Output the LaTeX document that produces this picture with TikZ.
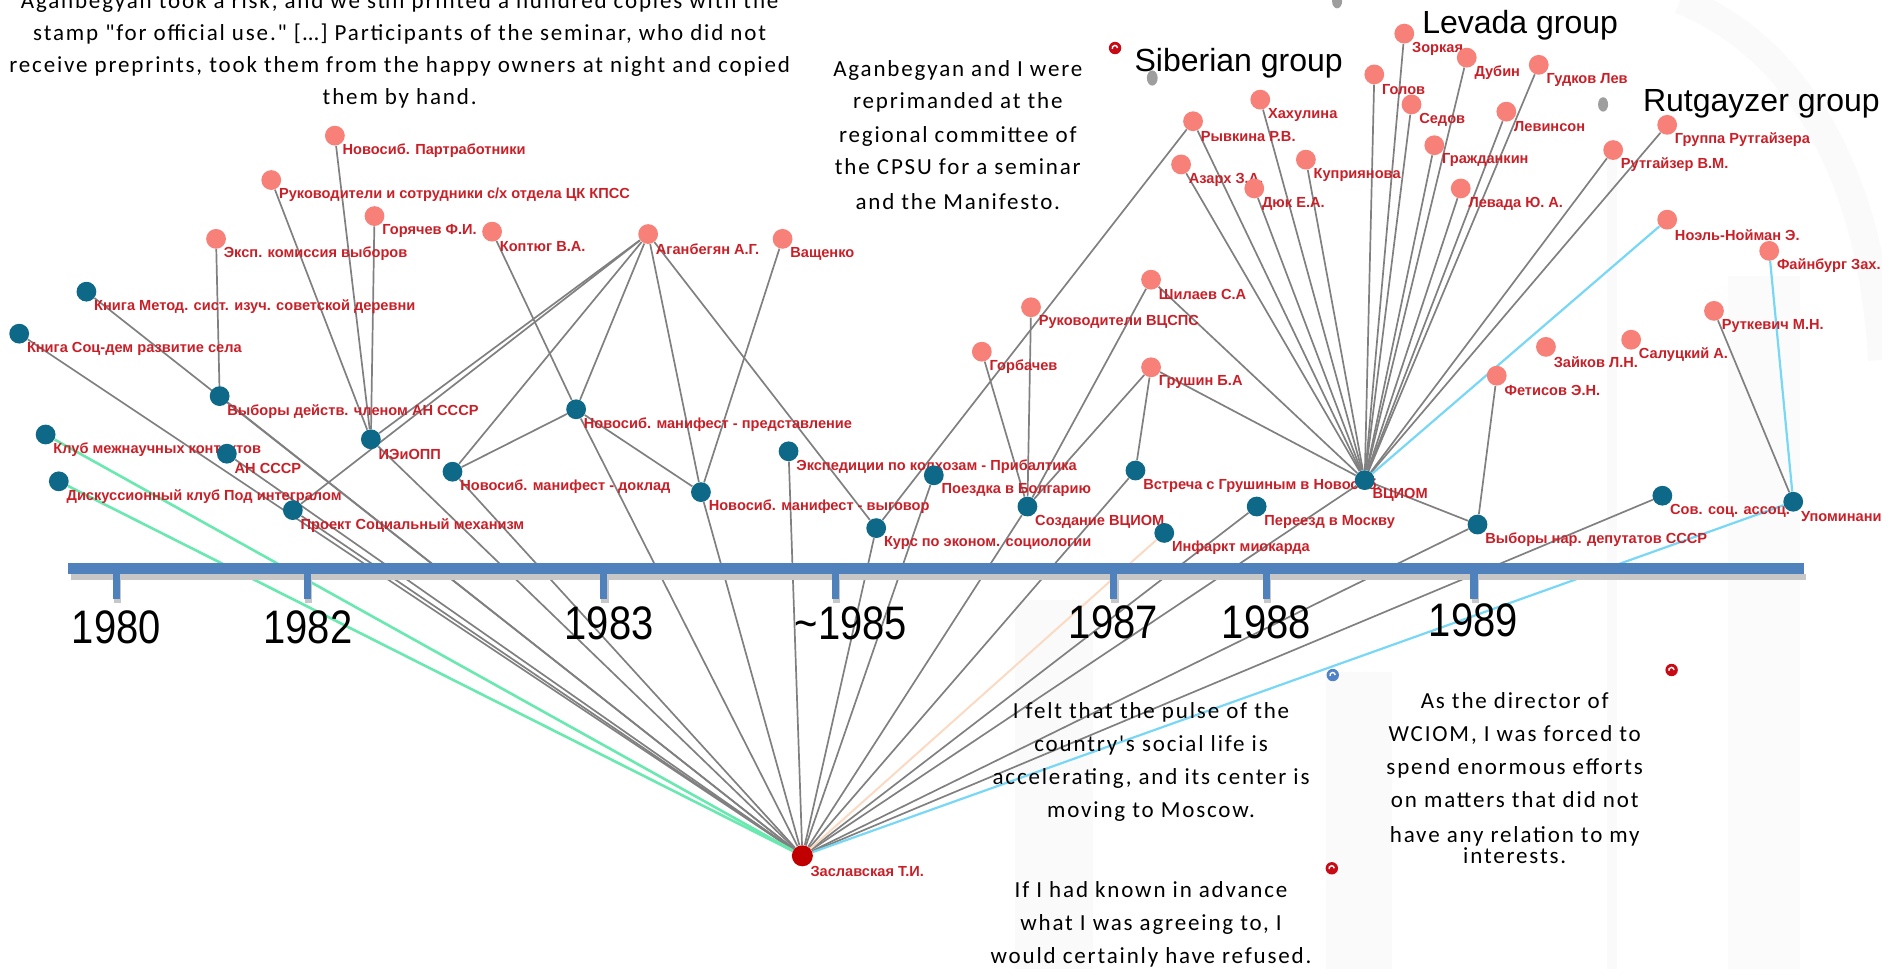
\documentclass[tikz,border=0pt]{standalone}
\usepackage{fontspec}
\setmainfont{Carlito}
\newfontfamily\quotefont[LetterSpace=8]{Carlito}
\newfontfamily\labfont{Liberation Sans}
\newfontfamily\grpfont{Liberation Sans}
\newfontfamily\yearfont[FakeStretch=0.85]{Liberation Sans}
\usetikzlibrary{calc}

\pgfdeclarelayer{wm}
\pgfdeclarelayer{edges}
\pgfdeclarelayer{labels}
\pgfsetlayers{wm,edges,labels,main}

\definecolor{pinknode}{RGB}{247,128,120}
\definecolor{tealnode}{RGB}{14,104,135}
\definecolor{znode}{RGB}{192,0,0}
\definecolor{labred}{RGB}{200,32,40}
\definecolor{edgegray}{RGB}{128,128,128}
\definecolor{edgegreen}{RGB}{105,232,175}
\definecolor{edgeblue}{RGB}{120,215,245}
\definecolor{edgepeach}{RGB}{250,218,195}
\definecolor{barblue}{RGB}{79,129,189}
\definecolor{iconred}{RGB}{200,10,20}
\definecolor{iconblue}{RGB}{80,130,200}

\tikzset{
  dot/.style={circle, inner sep=0pt, minimum size=9.9pt},
  pn/.style={dot, fill=pinknode},
  tn/.style={dot, fill=tealnode},
  zn/.style={dot, fill=znode, minimum size=10.5pt},
  lab/.style={font=\labfont\bfseries\fontsize{7.3}{8.5}\selectfont, text=labred, anchor=west, inner sep=0pt},
  link/.style={draw=edgegray, line width=0.85pt},
  greenlink/.style={draw=edgegreen, line width=1.3pt},
  peachlink/.style={draw=edgepeach, line width=1pt},
  bluelink/.style={draw=edgeblue, line width=1.1pt},
  qt/.style={font=\quotefont\fontsize{11.5}{14}\selectfont, anchor=base, inner sep=0pt},
  grp/.style={font=\grpfont\fontsize{16}{18}\selectfont, anchor=base, inner sep=0pt},
  yr/.style={font=\yearfont\fontsize{23.5}{26}\selectfont, anchor=base, inner sep=0pt},
  pill/.style={fill=black!38},
}

% a person (salmon) or an event (teal), with its caption below right
\newcommand\addperson[4]{%
  \node[pn] (#1) at (#2,#3) {};
  \begin{pgfonlayer}{labels}\node[lab] (#1-t) at ([xshift=3.7pt,yshift=-7.5pt]#1.center) {#4};\end{pgfonlayer}}
\newcommand\addevent[4]{%
  \node[tn] (#1) at (#2,#3) {};
  \begin{pgfonlayer}{labels}\node[lab] (#1-t) at ([xshift=3.7pt,yshift=-7.5pt]#1.center) {#4};\end{pgfonlayer}}
% small sound icon
\newcommand\soundicon[3]{%
  \fill[#3] (#1,#2) circle[radius=3.1pt];
  \draw[white, line width=0.7pt] ([xshift=1.2pt]#1,#2) arc[start angle=0, end angle=200, radius=1.3pt];}

\begin{document}
\begin{tikzpicture}[x=0.6pt, y=-0.6pt]
\useasboundingbox (0,0) rectangle (1568,807);

% faint backdrop shapes on the right
\begin{pgfonlayer}{wm}
  \fill[black!1.8] (846,500) rectangle (911,807);
  \fill[black!1.8] (1105,560) rectangle (1160,807);
  \fill[black!1.8] (1339,130) rectangle (1347,807);
  \fill[black!1.5] (1440,230) rectangle (1500,807);
  \draw[black!1.8, line width=14pt] (1400,0) .. controls (1500,40) and (1560,150) .. (1568,300);
\end{pgfonlayer}

% ---- timeline ----
\fill[black!22] (59,478) rectangle (1505,483);
\fill[barblue] (57,469) rectangle (1503,478);
\foreach \x in {97,256,503,696,928,1055,1228}{
  \fill[black!22] (\x-2,478) rectangle (\x+4,502);
  \fill[barblue] (\x-3,478) rectangle (\x+3,499);
}
\node[yr] (y1980) at (97,536) {1980};
\node[yr] (y1982) at (256.5,536) {1982};
\node[yr] (y1983) at (507.5,533) {1983};
\node[yr] (y1985) at (709,533) {\char`\~1985};
\node[yr] (y1987) at (927.5,532) {1987};
\node[yr] (y1988) at (1055,532) {1988};
\node[yr] (y1989) at (1227.5,530) {1989};

% ---- central figure ----
\node[zn] (Z) at (668.5,713) {};
\begin{pgfonlayer}{labels}\node[lab] (Z-t) at ([xshift=3.9pt,yshift=-7.8pt]Z.center) {Заславская Т.И.};\end{pgfonlayer}

% ---- events ----
\addevent{kmet}{72}{243}{Книга Метод. сист. изуч. советской деревни}
\addevent{ksoc}{16}{278}{Книга Соц-дем развитие села}
\addevent{vyb}{183}{330}{Выборы действ. членом АН СССР}
\addevent{klub}{38}{362}{Клуб межнаучных контактов}
\addevent{an}{189}{378}{АН СССР}
\addevent{disk}{49}{401}{Дискуссионный клуб Под интегралом}
\addevent{proj}{244}{425}{Проект Социальный механизм}
\addevent{ieopp}{309}{366}{ИЭиОПП}
\addevent{dokl}{377}{393}{Новосиб. манифест - доклад}
\addevent{pred}{480}{341}{Новосиб. манифест - представление}
\addevent{vygov}{584}{410}{Новосиб. манифест - выговор}
\addevent{exp}{657}{376}{Экспедиции по колхозам - Прибалтика}
\addevent{kurs}{730}{440}{Курс по эконом. социологии}
\addevent{bolg}{778}{396}{Поездка в Болгарию}
\addevent{sozd}{856}{422}{Создание ВЦИОМ}
\addevent{infa}{970}{444}{Инфаркт миокарда}
\addevent{vstr}{946}{392}{Встреча с Грушиным в Новосиб.}
\addevent{moskva}{1047}{422}{Переезд в Москву}
\addevent{wciom}{1137}{400}{ВЦИОМ}
\addevent{vybnar}{1231}{437}{Выборы нар. депутатов СССР}
\addevent{sov}{1385}{413}{Сов. соц. ассоц.}
\addevent{upom}{1494}{418}{Упоминание}

% ---- people ----
\addperson{partr}{279}{113}{Новосиб. Партработники}
\addperson{ruksh}{226}{150}{Руководители и сотрудники с/х отдела ЦК КПСС}
\addperson{gor}{312}{180}{Горячев Ф.И.}
\addperson{ekom}{180}{199}{Эксп. комиссия выборов}
\addperson{kopt}{410}{193}{Коптюг В.А.}
\addperson{agan}{540}{195}{Аганбегян А.Г.}
\addperson{vasch}{652}{199}{Ващенко}
\addperson{vcsps}{859}{256}{Руководители ВЦСПС}
\addperson{gorb}{818}{293}{Горбачев}
\addperson{shil}{959}{233}{Шилаев С.А}
\addperson{grush}{959}{306}{Грушин Б.А}
\addperson{ryv}{994}{101}{Рывкина Р.В.}
\addperson{hah}{1050}{83}{Хахулина}
\addperson{azar}{984}{137}{Азарх З.А.}
\addperson{dyuk}{1045}{157}{Дюк Е.А.}
\addperson{kup}{1088}{133}{Куприянова}
\addperson{zork}{1170}{28}{Зоркая}
\addperson{golov}{1145}{62}{Голов}
\addperson{dubin}{1222}{48}{Дубин}
\addperson{gudk}{1282}{54}{Гудков Лев}
\addperson{sedov}{1176}{87}{Седов}
\addperson{levin}{1255}{93}{Левинсон}
\addperson{grazh}{1195}{121}{Гражданкин}
\addperson{levada}{1217}{157}{Левада Ю. А.}
\addperson{grrut}{1389}{104}{Группа Рутгайзера}
\addperson{rut}{1344}{125}{Рутгайзер В.М.}
\addperson{noel}{1389}{183}{Ноэль-Нойман Э.}
\addperson{fain}{1474}{209}{Файнбург Зах.}
\addperson{rutk}{1428}{259}{Руткевич М.Н.}
\addperson{zaik}{1288}{289}{Зайков Л.Н.}
\addperson{sal}{1359}{283}{Салуцкий А.}
\addperson{fet}{1247}{313}{Фетисов Э.Н.}

% ---- connectors ----
\begin{pgfonlayer}{edges}
  \foreach \t in {kmet,ksoc,vyb,an,proj,ieopp,dokl,pred,vygov,exp,kurs,bolg,sozd,vstr,moskva,wciom,vybnar,sov}
    \draw[link] (Z) -- (\t);
  \draw[greenlink] (Z) -- (klub);
  \draw[greenlink] (Z) -- (disk);
  \draw[peachlink] (Z) -- (infa);
  \draw[bluelink] (Z) -- (upom);
  \foreach \a/\b in {partr/ieopp, ruksh/ieopp, gor/ieopp, ekom/vyb, kopt/pred,
      agan/ieopp, agan/proj, agan/dokl, agan/pred, agan/vygov, agan/kurs,
      vasch/vygov, pred/dokl, pred/vygov, ryv/kurs, vcsps/sozd, gorb/sozd,
      shil/sozd, grush/sozd, grush/vstr, fet/vybnar, wciom/vybnar, rutk/upom}
    \draw[link] (\a) -- (\b);
  \foreach \a in {ryv,hah,azar,dyuk,kup,zork,golov,dubin,gudk,sedov,levin,grazh,levada,grrut,rut,shil,grush}
    \draw[link] (\a) -- (wciom);
  \draw[bluelink] (noel) -- (wciom);
  \draw[bluelink] (fain) -- (upom);
\end{pgfonlayer}

% ---- group titles and markers ----
\node[grp] (gsib) at (1032,59.7) {Siberian group};
\node[grp] (glev) at (1266.5,27.8) {Levada group};
\node[grp] (grutg) at (1467.5,93) {Rutgayzer group};
\fill[pill] (960,65) ellipse[x radius=2.7pt, y radius=3.8pt];
\fill[pill] (1335.6,87) ellipse[x radius=2.5pt, y radius=3.6pt];
\fill[pill] (1114,1) ellipse[x radius=2.5pt, y radius=3.6pt];
\soundicon{929}{40}{iconred}
\soundicon{1110.4}{562.4}{iconblue}
\soundicon{1109.6}{723.4}{iconred}
\soundicon{1392.7}{558.2}{iconred}

% ---- quotations ----
\node[qt] (qa1) at (333,7) {Aganbegyan took a risk, and we still printed a hundred copies with the};
\node[qt] (qa2) at (333,33.5) {stamp "for official use." […] Participants of the seminar, who did not};
\node[qt] (qa3) at (333,60.5) {receive preprints, took them from the happy owners at night and copied};
\node[qt] (qa4) at (333,87) {them by hand.};

\node[qt] (qb1) at (798,64) {Aganbegyan and I were};
\node[qt] (qb2) at (798,90.5) {reprimanded at the};
\node[qt] (qb3) at (798,118.5) {regional committee of};
\node[qt] (qb4) at (798,145.5) {the CPSU for a seminar};
\node[qt] (qb5) at (798,174.5) {and the Manifesto.};

\node[qt] (qc1) at (959,598.5) {I felt that the pulse of the};
\node[qt] (qc2) at (959,626) {country's social life is};
\node[qt] (qc3) at (959,654) {accelerating, and its center is};
\node[qt] (qc4) at (959,681.5) {moving to Moscow.};

\node[qt] (qd1) at (959,748) {If I had known in advance};
\node[qt] (qd2) at (959,775) {what I was agreeing to, I};
\node[qt] (qd3) at (959,803) {would certainly have refused.};

\node[qt] (qe1) at (1262,590.5) {As the director of};
\node[qt] (qe2) at (1262,617.5) {WCIOM, I was forced to};
\node[qt] (qe3) at (1262,645.5) {spend enormous efforts};
\node[qt] (qe4) at (1262,672.5) {on matters that did not};
\node[qt] (qe5) at (1262,701.5) {have any relation to my};
\node[qt] (qe6) at (1262,719.5) {interests.};
\end{tikzpicture}
\end{document}
